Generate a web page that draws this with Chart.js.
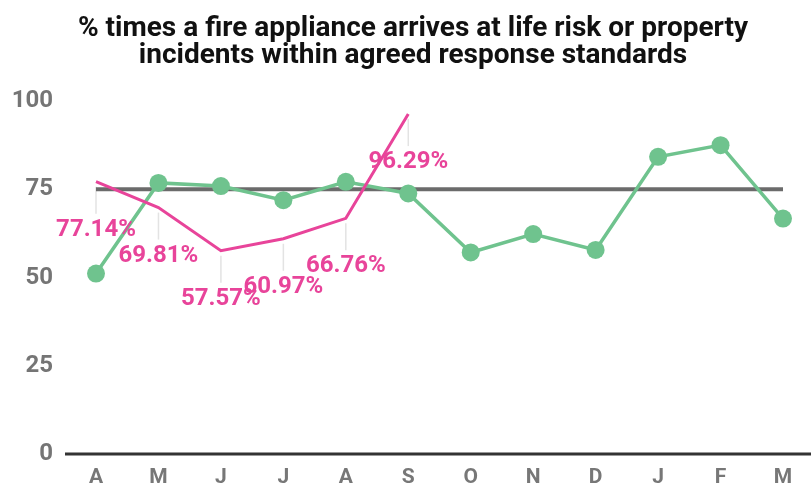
<!DOCTYPE html>
<html>
<head>
<meta charset="utf-8">
<script src="https://cdn.jsdelivr.net/npm/chart.js@4/dist/chart.umd.min.js"></script>
<style>
html,body{margin:0;padding:0;background:#fff;}
#wrap{width:811px;height:491px;position:relative;}
canvas{display:block;}
</style>
</head>
<body>
<div id="wrap"><canvas id="c" width="811" height="491"></canvas></div>
<script>
const titleLines = ["% times a fire appliance arrives at life risk or property", "incidents within agreed response standards"];
const months = ["A","M","J","J","A","S","O","N","D","J","F","M"];
const currentYear = [51.1, 76.8, 75.9, 71.9, 77.1, 73.8, 57.1, 62.3, 57.8, 84.2, 87.5, 66.7];
const previousYear = [77.14, 69.81, 57.57, 60.97, 66.76, 96.29, null, null, null, null, null, null];
const targetValues = [75, 75, 75, 75, 75, 75, 75, 75, 75, 75, 75, 75];
const yTicks = [0, 25, 50, 75, 100];

const PINK = '#e8449a';
const GREEN = '#6fc38e';

const extras = {
  id: 'extras',
  beforeDatasetsDraw(chart) {
    const ctx = chart.ctx;
    const meta = chart.getDatasetMeta(1);
    ctx.save();
    const y0 = chart.scales.y.getPixelForValue(0);
    ctx.strokeStyle = '#333333';
    ctx.lineWidth = 3;
    ctx.beginPath();
    ctx.moveTo(65, y0);
    ctx.lineTo(chart.width, y0);
    ctx.stroke();
    ctx.strokeStyle = '#e3e3e3';
    ctx.lineWidth = 1.5;
    meta.data.forEach((pt, i) => {
      if (previousYear[i] == null) return;
      ctx.beginPath();
      ctx.moveTo(pt.x, pt.y + 5);
      ctx.lineTo(pt.x, pt.y + 32);
      ctx.stroke();
    });
    ctx.restore();
  },
  afterDatasetsDraw(chart) {
    const ctx = chart.ctx;
    const meta = chart.getDatasetMeta(1);
    ctx.save();
    ctx.font = 'bold 24px Roboto';
    ctx.fillStyle = PINK;
    ctx.textAlign = 'center';
    ctx.textBaseline = 'middle';
    meta.data.forEach((pt, i) => {
      const v = previousYear[i];
      if (v == null) return;
      ctx.fillText(v.toFixed(2) + '%', pt.x, pt.y + 48);
    });
    ctx.restore();
  },
  afterDraw(chart) {
    const ctx = chart.ctx;
    ctx.save();
    ctx.font = 'bold 28px Roboto';
    ctx.fillStyle = '#111111';
    ctx.textAlign = 'center';
    ctx.textBaseline = 'middle';
    ctx.fillText(titleLines[0], 413, 29);
    ctx.fillText(titleLines[1], 413, 56);
    ctx.restore();
  }
};

new Chart(document.getElementById('c'), {
  type: 'line',
  data: {
    labels: months,
    datasets: [
      { label: 'Target', data: targetValues, borderColor: '#6b6b6b', borderWidth: 4, pointRadius: 0, order: 3, tension: 0 },
      { label: 'Previous year', data: previousYear, borderColor: PINK, borderWidth: 3, pointRadius: 0, order: 1, spanGaps: false, tension: 0 },
      { label: 'Current year', data: currentYear, borderColor: GREEN, backgroundColor: GREEN, borderWidth: 3.5, pointRadius: 9, pointBackgroundColor: GREEN, pointBorderWidth: 0, order: 2, tension: 0 }
    ]
  },
  options: {
    responsive: false,
    animation: false,
    layout: { padding: { left: 0, right: 28, top: 101, bottom: 0 } },
    plugins: {
      legend: { display: false },
      tooltip: { enabled: false },
      title: { display: false }
    },
    scales: {
      x: {
        offset: false,
        grid: { display: false, drawTicks: false },
        border: { display: false },
        ticks: { color: '#777777', font: { family: 'Roboto', size: 21, weight: 'bold' }, padding: 11, maxRotation: 0, autoSkip: false },
        afterFit(scale) { scale.height = 37; scale.paddingLeft = 0; scale.paddingRight = 0; }
      },
      y: {
        min: 0, max: 100,
        afterBuildTicks(scale) { scale.ticks = yTicks.map(v => ({ value: v })); },
        grid: { display: false, drawTicks: false },
        border: { display: false },
        ticks: { color: '#757575', font: { family: 'Roboto', size: 24, weight: 'bold' }, padding: 43 },
        afterFit(scale) { scale.width = 96; scale.paddingTop = 0; scale.paddingBottom = 0; }
      }
    }
  },
  plugins: [extras]
});
</script>
</body>
</html>
